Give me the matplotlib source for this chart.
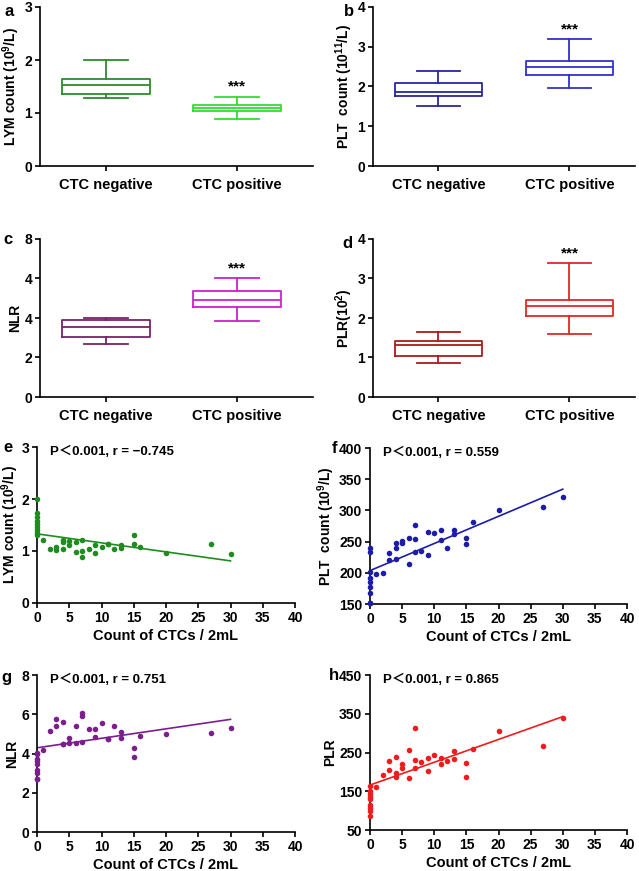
import matplotlib
matplotlib.use("Agg")
import matplotlib.pyplot as plt
import numpy as np

plt.rcParams['font.family'] = ['Liberation Sans', 'Noto Sans CJK SC', 'DejaVu Sans']
plt.rcParams['font.weight'] = 'bold'
plt.rcParams['axes.labelweight'] = 'bold'
plt.rcParams['mathtext.fontset'] = 'custom'
plt.rcParams['mathtext.rm'] = 'Liberation Sans:bold'
plt.rcParams['mathtext.bf'] = 'Liberation Sans:bold'
plt.rcParams['mathtext.it'] = 'Liberation Sans:bold'

# ---------------- Box plot data ----------------
groups = ["CTC negative", "CTC positive"]
# (whislo, q1, median, q3, whishi)
lym_box = [(1.29, 1.36, 1.53, 1.64, 2.00), (0.88, 1.03, 1.09, 1.15, 1.31)]
plt_box = [(1.50, 1.75, 1.86, 2.08, 2.38), (1.97, 2.29, 2.49, 2.64, 3.20)]
nlr_box = [(2.68, 3.05, 3.53, 3.92, 4.00), (3.83, 4.56, 4.91, 5.38, 6.04)]
plr_box = [(0.87, 1.03, 1.31, 1.43, 1.64), (1.60, 2.04, 2.30, 2.46, 3.38)]
nlr_ticklabels = ['0', '2', '4', '4', '8']

# ---------------- Scatter data ----------------
ctc = [0, 0, 0, 0, 0, 0, 0, 0, 0, 1, 2, 3, 3, 4, 4, 4, 5, 5, 6, 6, 7, 7, 7,
       8, 9, 9, 10, 11, 11, 12, 13, 13, 15, 15, 16, 20, 27, 30]
lym = [2.00, 1.73, 1.65, 1.58, 1.52, 1.46, 1.40, 1.35, 1.30, 1.22, 1.03, 1.08, 1.01,
       1.22, 1.17, 1.04, 1.19, 1.12, 1.17, 0.98, 1.21, 1.00, 0.88,
       1.04, 1.12, 0.96, 1.08, 1.14, 1.14, 1.04, 1.11, 1.06, 1.30, 1.14, 1.08, 0.97, 1.14, 0.94]
pltc = [239, 233, 201, 191, 186, 178, 168, 151, 151, 198, 199, 231, 221,
        248, 239, 222, 251, 248, 255, 214, 276, 254, 233,
        235, 265, 228, 264, 269, 253, 239, 269, 262, 256, 246, 282, 300, 306, 322]
nlr = [4.05, 4.00, 3.74, 3.60, 3.49, 3.15, 3.03, 2.72, 2.72, 4.19, 5.16, 5.74, 5.38,
       5.58, 4.48, 4.48, 4.77, 4.56, 5.41, 4.53, 6.08, 5.89, 4.60,
       5.24, 5.23, 4.82, 5.53, 4.73, 4.73, 5.41, 5.11, 4.80, 4.29, 3.83, 4.87, 4.99, 5.04, 5.29]
plr = [163, 151, 143, 136, 129, 115, 107, 100, 86, 160, 192, 228, 204,
       238, 196, 188, 220, 209, 256, 183, 312, 230, 209,
       225, 235, 203, 243, 237, 220, 229, 253, 232, 224, 186, 260, 306, 268, 338]

# regression lines (endpoints)
fit_x = [0, 30]
lym_fit = [1.33, 0.81]
plt_fit = [203.5, 334]
nlr_fit = [4.29, 5.74]
plr_fit = [166, 342.5]

W, H = 639, 871
fig = plt.figure(figsize=(W / 100, H / 100), dpi=100)


def add_ax(x0, x1, ytop, ybot):
    return fig.add_axes([x0 / W, 1 - ybot / H, (x1 - x0) / W, (ybot - ytop) / H])


def style(ax):
    for s in ['top', 'right']:
        ax.spines[s].set_visible(False)
    for s in ['left', 'bottom']:
        ax.spines[s].set_linewidth(1.2)
    ax.tick_params(direction='out', length=3.5, width=1.2, labelsize=10, pad=2)
    for lab in ax.get_xticklabels() + ax.get_yticklabels():
        lab.set_fontweight('bold')


def box_panel(ax, data, colors, ylim, yticks, ylabel, star_y, xlim, yticklabels=None):
    for i, ((lo, q1, med, q3, hi), c) in enumerate(zip(data, colors)):
        st = dict(label=groups[i], whislo=lo, q1=q1, med=med, q3=q3, whishi=hi, fliers=[])
        ax.bxp([st], positions=[i + 1], widths=0.67, showfliers=False,
               boxprops=dict(color=c, linewidth=1.3),
               whiskerprops=dict(color=c, linewidth=1.3),
               capprops=dict(color=c, linewidth=1.3),
               medianprops=dict(color=c, linewidth=1.3))
    ax.set_xticks([1, 2])
    ax.set_xticklabels(groups)
    ax.set_xlim(*xlim)
    ax.set_ylim(*ylim)
    ax.set_yticks(yticks)
    if yticklabels is not None:
        ax.set_yticklabels(yticklabels)
    ax.set_ylabel(ylabel, fontsize=10, labelpad=2)
    ax.text(2, star_y, '***', ha='center', va='center', fontsize=11)
    style(ax)
    ax.tick_params(axis='x', labelsize=10.5, pad=5)


def scatter_panel(ax, x, y, fit_y, color, ylim, yticks, ylabel, note):
    ax.scatter(x, y, s=16, color=color, clip_on=False, zorder=3, linewidths=0)
    ax.plot(fit_x, fit_y, color=color, linewidth=1.2)
    ax.set_xlim(0, 40)
    ax.set_xticks(range(0, 41, 5))
    ax.set_ylim(*ylim)
    ax.set_yticks(yticks)
    ax.set_xlabel('Count of CTCs / 2mL', fontsize=10.5, labelpad=3)
    ax.set_ylabel(ylabel, fontsize=10, labelpad=1.5)
    ax.text(0.05, 0.97, note, transform=ax.transAxes, ha='left', va='center', fontsize=9.5)
    style(ax)


def panel_letter(x, y, s):
    fig.text(x / W, 1 - y / H, s, ha='center', va='center', fontsize=12, fontweight='bold')


axa = add_ax(40, 313, 7, 166)
box_panel(axa, lym_box, ['#2e8b2e', '#33dd33'], (0, 3), [0, 1, 2, 3],
          'LYM count (10$^{9}$/L)', 1.51, (0.5, 2.58))
axb = add_ax(373, 635, 7, 166)
box_panel(axb, plt_box, ['#27279a', '#3232cc'], (0, 4), [0, 1, 2, 3, 4],
          'PLT  count (10$^{11}$/L)', 3.43, (0.5, 2.5))
axc = add_ax(40, 313, 239, 397)
box_panel(axc, nlr_box, ['#74246a', '#cc22cc'], (0, 8), [0, 2, 4, 6, 8],
          'NLR', 6.53, (0.5, 2.58), yticklabels=nlr_ticklabels)
axd = add_ax(373, 635, 239, 397)
box_panel(axd, plr_box, ['#a81c1c', '#e02828'], (0, 4), [0, 1, 2, 3, 4],
          'PLR(10$^{2}$)', 3.64, (0.5, 2.5))

axe = add_ax(37, 295, 447, 603)
scatter_panel(axe, ctc, lym, lym_fit, '#1e8c1e', (0, 3), [0, 1, 2, 3],
              'LYM count (10$^{9}$/L)', 'P＜0.001, r = −0.745')
axe.yaxis.set_label_coords(-0.062, 0.5)
axf = add_ax(370, 627, 448, 604)
scatter_panel(axf, ctc, pltc, plt_fit, '#1c1ca8', (150, 400), [150, 200, 250, 300, 350, 400],
              'PLT  count (10$^{9}$/L)', 'P＜0.001, r = 0.559')
axg = add_ax(37, 295, 675, 832)
scatter_panel(axg, ctc, nlr, nlr_fit, '#7d1e8e', (0, 8), [0, 2, 4, 6, 8],
              'NLR', 'P＜0.001, r = 0.751')
axh = add_ax(370, 627, 675, 830)
scatter_panel(axh, ctc, plr, plr_fit, '#ee1c1c', (50, 450), [50, 150, 250, 350, 450],
              'PLR', 'P＜0.001, r = 0.865')

panel_letter(9, 11, 'a')
panel_letter(349, 11, 'b')
panel_letter(8, 240, 'c')
panel_letter(347, 243, 'd')
panel_letter(8, 447, 'e')
panel_letter(334, 448, 'f')
panel_letter(6, 677, 'g')
panel_letter(334, 675, 'h')

fig.savefig('out.png', dpi=100, facecolor='white')
